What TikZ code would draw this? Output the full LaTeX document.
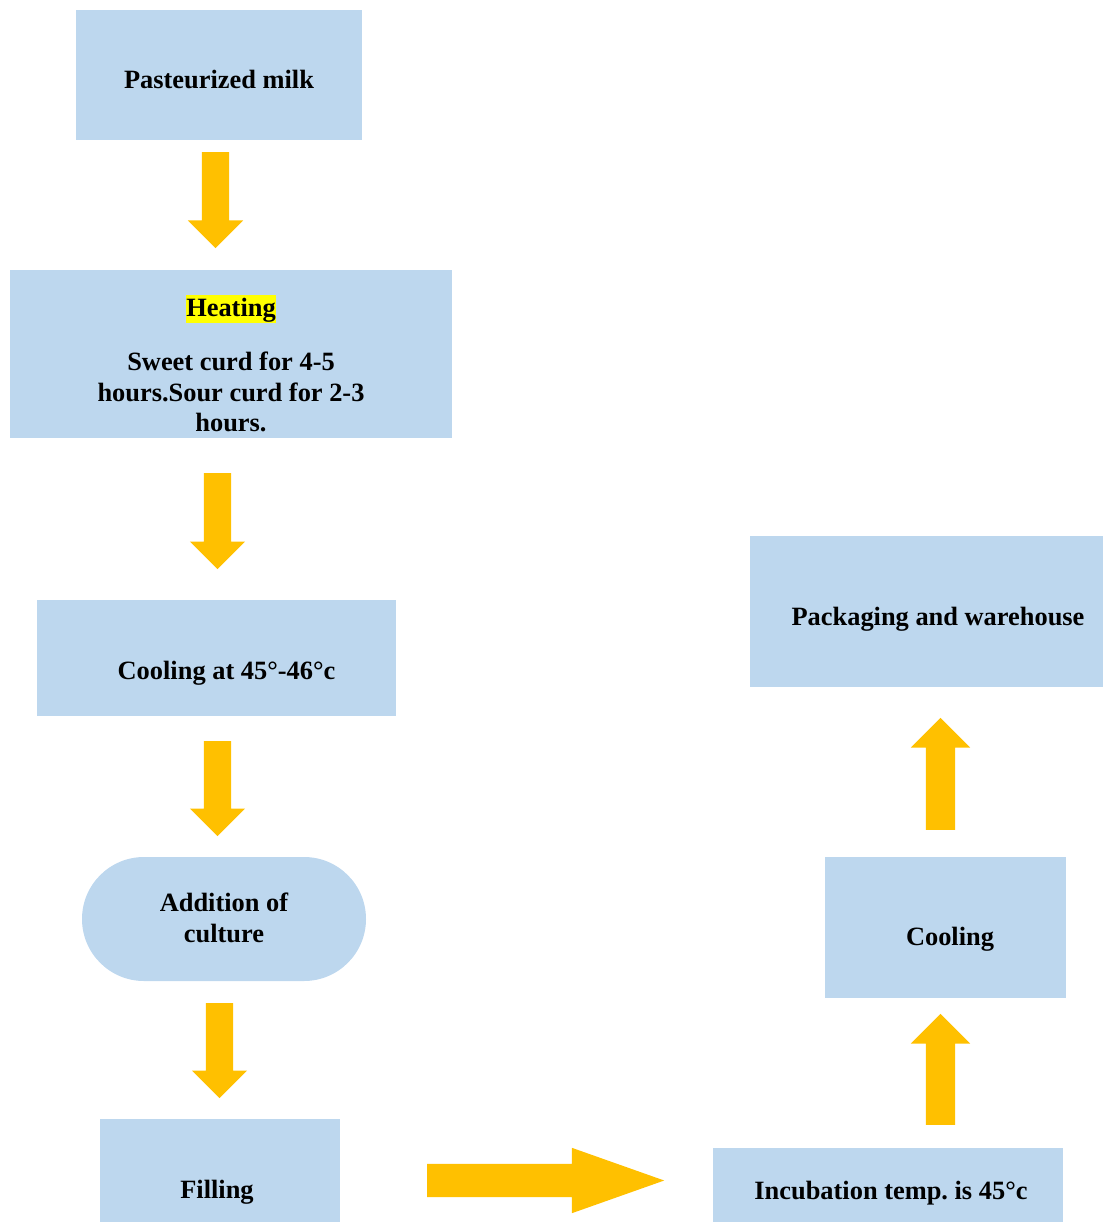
\documentclass[tikz,border=0pt]{standalone}
\usepackage{fontspec}
\setmainfont{Liberation Serif}
\usepackage{tikz}
\usetikzlibrary{shapes.arrows}

\definecolor{boxblue}{HTML}{BDD7EE}
\definecolor{arrowgold}{HTML}{FFC000}
\definecolor{marker}{HTML}{FFFF00}
\setlength{\fboxsep}{0.5pt}
\frenchspacing

\newcommand{\lowered}[2]{\raisebox{-#1}[\height][\depth]{#2}}

\begin{document}
\begin{tikzpicture}[x=1pt,y=-1pt]

\tikzstyle{block} = [rectangle, fill=boxblue, inner sep=0pt, text centered, font=\fontsize{26.4}{30.5}\selectfont\bfseries]
\tikzstyle{pill} = [block, rounded corners=62pt]
\tikzstyle{fatarrow} = [single arrow, fill=arrowgold, single arrow tip angle=90, anchor=tail]
\tikzstyle{downarrow} = [fatarrow, shape border rotate=270, inner sep=13.5pt, single arrow head extend=14pt]
\tikzstyle{uparrow} = [fatarrow, shape border rotate=90, inner sep=14.5pt, single arrow head extend=15pt]

\useasboundingbox (0,0) rectangle (1102,1222);

% left column
\node (milk) [block, minimum width=286pt, minimum height=130pt] at (219,75) {\lowered{5pt}{Pasteurized milk}};
\node (heat) [block, minimum width=442pt, minimum height=168pt] at (231,354) {\lowered{14pt}{\begin{tabular}{@{}c@{}}\smash{\colorbox{marker}{\rule[-4.5pt]{0pt}{25.5pt}Heating}}\\[24pt] Sweet curd for 4-5\\ hours.Sour curd for 2-3\\ hours.\end{tabular}}};
\node (cool) [block, minimum width=359pt, minimum height=116pt] at (216.5,658) {\lowered{15pt}{\hspace*{20pt}Cooling at 45°-46°c}};
\node (culture) [pill, minimum width=284pt, minimum height=124pt] at (224,919) {\lowered{2pt}{\begin{tabular}{@{}c@{}}Addition of\\ culture\end{tabular}}};
\node (fill) [block, minimum width=240pt, minimum height=140pt] at (220,1189) {\lowered{3pt}{Filling\hspace*{6pt}}};

% right column
\node (incub) [block, minimum width=350pt, minimum height=84pt] at (888,1190) {\lowered{3pt}{\hspace*{6pt}Incubation temp. is 45°c}};
\node (cooling) [block, minimum width=241pt, minimum height=141pt] at (945.5,927.5) {\lowered{12pt}{\hspace*{9pt}Cooling}};
\node (pack) [block, minimum width=376pt, minimum height=151pt] at (938,611.5) {\lowered{8pt}{Packaging and warehouse}};

% arrows
\node (a1) [downarrow, minimum height=96pt] at (215.5,152) {};
\node (a2) [downarrow, minimum height=96pt] at (217.5,473) {};
\node (a3) [downarrow, minimum height=95pt] at (217.5,741) {};
\node (a4) [downarrow, minimum height=95pt] at (219.5,1003) {};
\node (a5) [fatarrow, inner sep=16.5pt, single arrow head extend=16pt, single arrow tip angle=39, minimum height=237pt] at (427,1180.5) {};
\node (a6) [uparrow, minimum height=111pt] at (940.5,1125) {};
\node (a7) [uparrow, minimum height=112pt] at (940.5,830) {};

\end{tikzpicture}
\end{document}
